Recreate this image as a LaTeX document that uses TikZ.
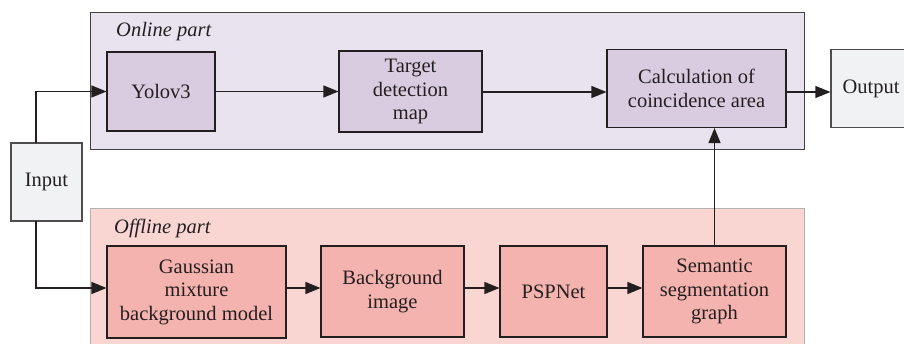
\documentclass[tikz,border=0pt]{standalone}
\usepackage{fontspec}
\setmainfont{Liberation Serif}
\usetikzlibrary{arrows.meta}
\definecolor{onbg}{HTML}{E9E2EF}
\definecolor{onnode}{HTML}{D9CCE0}
\definecolor{offbg}{HTML}{F9D6D2}
\definecolor{offnode}{HTML}{F4B3AE}
\definecolor{ionode}{HTML}{F1F2F4}
\definecolor{ink}{HTML}{231F20}
\tikzset{
  base/.style={draw=ink, line width=1.1pt, align=center, inner sep=0pt,
    font=\fontsize{20.5}{23.5}\selectfont, text=ink},
  onbox/.style={base, fill=onnode},
  offbox/.style={base, fill=offnode},
  iobox/.style={base, fill=ionode, draw=ink!80},
  wh/.style 2 args={minimum width=#1pt, minimum height=#2pt},
  conn/.style={draw=ink, line width=1.1pt, -{Triangle[length=15pt,width=12pt]}},
  grouplbl/.style={font=\fontsize{20.5}{23.5}\selectfont\itshape, text=ink, anchor=base west, inner sep=0pt}
}
\begin{document}
\begin{tikzpicture}[x=1pt,y=-1pt]
\useasboundingbox (0,0) rectangle (904,344);
% group boxes
\draw[fill=onbg, draw=ink!85, line width=1pt] (90,13) rectangle (804,150);
\draw[fill=offbg, draw=ink!35, line width=1pt] (90,209) rectangle (804,360);
\node[grouplbl] (onl) at (116,37) {Online part};
\node[grouplbl] (offl) at (114,234) {Offline part};
% nodes
\node[onbox, wh={108}{79}] (yolo) at (161,91.5) {Yolov3};
\node[onbox, wh={143}{81}] (tdm) at (410.5,91.5) {Target\\detection\\map};
\node[onbox, wh={179}{78}] (calc) at (696.5,88.5) {Calculation of\\coincidence area};
\node[iobox, wh={80}{78}] (out) at (871,88.5) {Output};
\node[iobox, wh={71}{78}] (inp) at (46.5,182) {Input};
\node[offbox, wh={179}{92}] (gmm) at (196.5,292) {Gaussian\\mixture\\background model};
\node[offbox, wh={143}{91}] (bgi) at (392.5,291.5) {Background\\image};
\node[offbox, wh={107}{91}] (psp) at (553.5,291.5) {PSPNet};
\node[offbox, wh={143}{91}] (sem) at (714.5,291.5) {Semantic\\segmentation\\graph};
% connectors
\coordinate (intop) at (36,143);
\coordinate (inbot) at (36,221);
\coordinate (row1) at (0,92);
\coordinate (row2) at (0,288);
\draw[conn] (intop) |- (yolo.west);
\draw[conn] (inbot) |- (row2 -| gmm.west);
\draw[conn] (yolo.east) -- (tdm.west);
\draw[conn] (row1 -| tdm.east) -- (row1 -| calc.west);
\draw[conn] (row1 -| calc.east) -- (row1 -| out.west);
\draw[conn] (row2 -| gmm.east) -- (row2 -| bgi.west);
\draw[conn] (row2 -| bgi.east) -- (row2 -| psp.west);
\draw[conn] (row2 -| psp.east) -- (row2 -| sem.west);
\draw[conn] (sem.north) -- (sem.north |- calc.south);
\end{tikzpicture}
\end{document}
